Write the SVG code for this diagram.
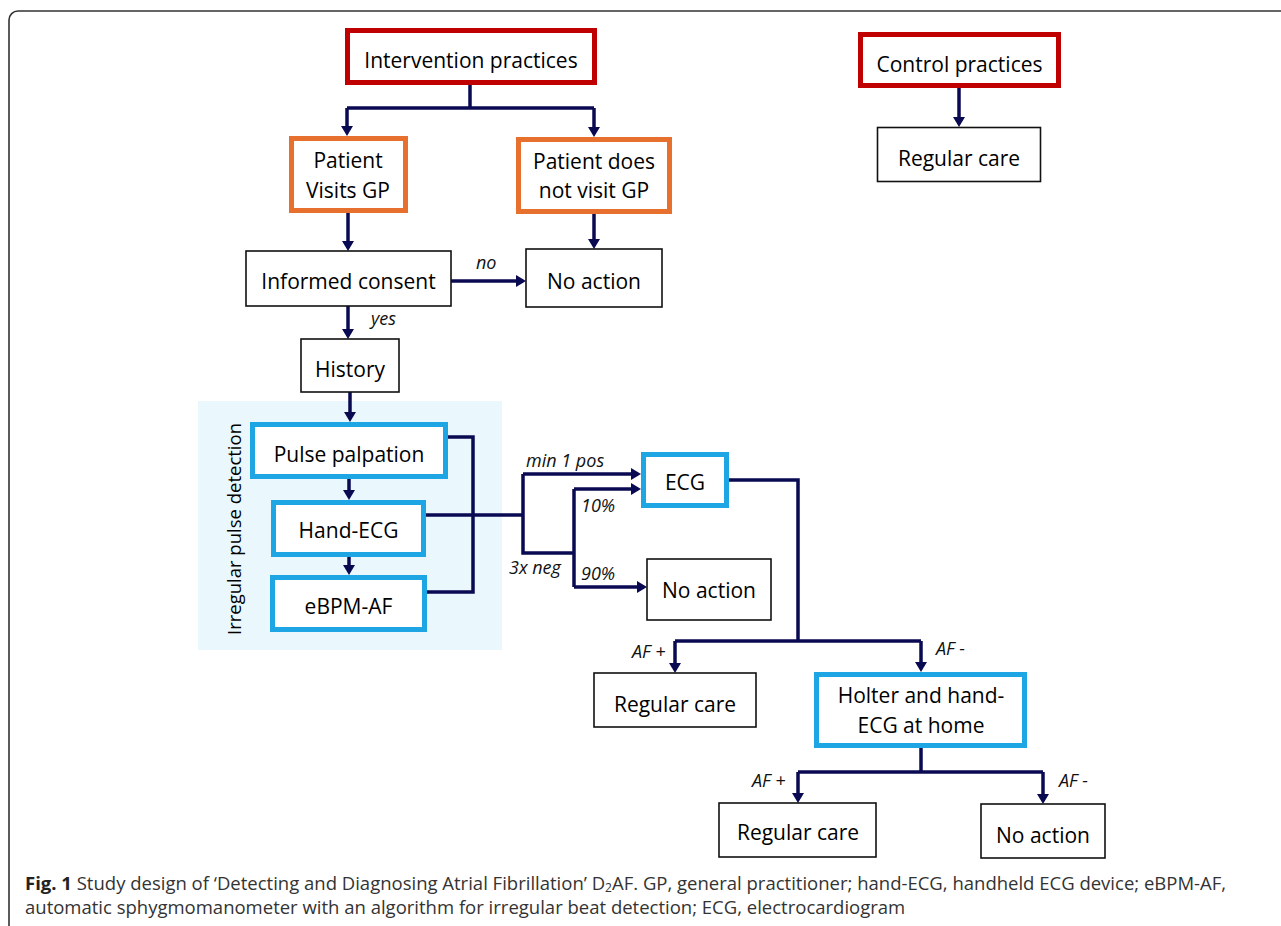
<svg xmlns="http://www.w3.org/2000/svg" width="1281" height="926" viewBox="0 0 1281 926">
<defs>
<marker id="ah" viewBox="0 0 10 12" refX="7" refY="6" markerWidth="10" markerHeight="12" markerUnits="userSpaceOnUse" orient="auto">
<path d="M0,0 L10,6 L0,12 z" fill="#0a0a52"/>
</marker>
<style>
.t{font-family:"Open Sans","Noto Sans",sans-serif;font-size:21px;fill:#000;text-anchor:middle}
.lab{font-family:"Open Sans","Noto Sans",sans-serif;font-size:18px;font-style:italic;fill:#111}
.red{fill:#fff;stroke:#c00000;stroke-width:5}
.org{fill:#fff;stroke:#e8702f;stroke-width:5}
.blu{fill:#fff;stroke:#1ea5e3;stroke-width:5}
.blk{fill:#fff;stroke:#111;stroke-width:1.6}
.c{fill:none;stroke:#0a0a52;stroke-width:3.5}
.a{fill:none;stroke:#0a0a52;stroke-width:3.5;marker-end:url(#ah)}
.cap{font-family:"Open Sans","Noto Sans",sans-serif;font-size:18.5px;fill:#333}
</style>
</defs>
<rect width="1281" height="926" fill="#fff"/>
<path d="M9,926 V20 A9,9 0 0 1 18,11 H1281" fill="none" stroke="#333" stroke-width="1.6"/>
<rect x="198" y="401" width="304" height="249" fill="#eaf8fd"/>
<text class="t" style="font-size:18.5px" transform="translate(241,529) rotate(-90)">Irregular pulse detection</text>

<g id="connectors">
<path class="c" d="M470,85 V108"/>
<path class="c" d="M347,108 H594"/>
<path class="a" d="M347,108 V133"/>
<path class="a" d="M594,108 V134"/>
<path class="a" d="M959,88 V124"/>
<path class="a" d="M348,213 V248"/>
<path class="a" d="M594,214 V246"/>
<path class="a" d="M451,281 H523"/>
<path class="a" d="M348,306 V336"/>
<path class="a" d="M350,392 V419"/>
<path class="a" d="M349,479 V497"/>
<path class="a" d="M349,557 V572"/>
<path class="c" d="M448,437 H473 V592 H427"/>
<path class="c" d="M426,515 H523"/>
<path class="c" d="M523,474 V553 H574"/>
<path class="a" d="M523,474 H638"/>
<path class="c" d="M574,489 V587"/>
<path class="a" d="M574,489 H638"/>
<path class="a" d="M574,587 H644"/>
<path class="c" d="M729,480 H798 V641"/>
<path class="c" d="M675,641 H921"/>
<path class="a" d="M675,641 V670"/>
<path class="a" d="M921,641 V669"/>
<path class="c" d="M921,748 V772"/>
<path class="c" d="M798,772 H1043"/>
<path class="a" d="M798,772 V800"/>
<path class="a" d="M1043,772 V801"/>
<text class="lab" x="476" y="269">no</text>
<text class="lab" x="371" y="325">yes</text>
<text class="lab" x="526" y="467">min 1 pos</text>
<text class="lab" x="581" y="512">10%</text>
<text class="lab" x="509" y="574">3x neg</text>
<text class="lab" x="581" y="580">90%</text>
<text class="lab" x="632" y="658">AF +</text>
<text class="lab" x="936" y="655">AF -</text>
<text class="lab" x="752" y="787">AF +</text>
<text class="lab" x="1059" y="787">AF -</text>
</g>

<g id="intervention"><rect class="red" x="347.5" y="30.5" width="247" height="52"/><text class="t" x="471" y="68">Intervention practices</text></g>
<g id="control"><rect class="red" x="860.5" y="34.5" width="198" height="51"/><text class="t" x="959.5" y="72">Control practices</text></g>
<g id="regular-care-control"><rect class="blk" x="877.5" y="127.5" width="163" height="54"/><text class="t" x="959" y="166">Regular care</text></g>
<g id="visits"><rect class="org" x="291.5" y="138.5" width="114" height="72"/><text class="t" x="348" y="168">Patient</text><text class="t" x="348" y="198">Visits GP</text></g>
<g id="not-visit"><rect class="org" x="518.5" y="139.5" width="151" height="72"/><text class="t" x="594" y="169">Patient does</text><text class="t" x="594" y="198">not visit GP</text></g>
<g id="consent"><rect class="blk" x="246" y="251" width="205" height="55"/><text class="t" x="348.5" y="289">Informed consent</text></g>
<g id="no-action-1"><rect class="blk" x="526" y="249" width="136" height="58"/><text class="t" x="594" y="289">No action</text></g>
<g id="history"><rect class="blk" x="301" y="339" width="98" height="53"/><text class="t" x="350" y="377">History</text></g>
<g id="pulse"><rect class="blu" x="252.5" y="424.5" width="193" height="52"/><text class="t" x="349" y="462">Pulse palpation</text></g>
<g id="hand-ecg"><rect class="blu" x="273.5" y="502.5" width="150" height="52"/><text class="t" x="348.5" y="538">Hand-ECG</text></g>
<g id="ebpm"><rect class="blu" x="272.5" y="577.5" width="152" height="52"/><text class="t" x="348.5" y="614">eBPM-AF</text></g>
<g id="ecg"><rect class="blu" x="643.5" y="454.5" width="83" height="51"/><text class="t" x="685" y="490">ECG</text></g>
<g id="no-action-2"><rect class="blk" x="647" y="559" width="124" height="61"/><text class="t" x="709" y="598">No action</text></g>
<g id="regular-care-2"><rect class="blk" x="594" y="673" width="162" height="54"/><text class="t" x="675" y="712">Regular care</text></g>
<g id="holter"><rect class="blu" x="816.5" y="674.5" width="208" height="71"/><text class="t" x="921" y="703">Holter and hand-</text><text class="t" x="921" y="733">ECG at home</text></g>
<g id="regular-care-3"><rect class="blk" x="719" y="803" width="157" height="54"/><text class="t" x="798" y="840">Regular care</text></g>
<g id="no-action-3"><rect class="blk" x="981" y="804" width="124" height="54"/><text class="t" x="1043" y="843">No action</text></g>

<text class="cap" x="25" y="890"><tspan font-weight="bold" fill="#222">Fig. 1</tspan> Study design of ‘Detecting and Diagnosing Atrial Fibrillation’ D<tspan font-size="12" dy="2">2</tspan><tspan dy="-2">AF. GP, general practitioner; hand-ECG, handheld ECG device; eBPM-AF,</tspan></text>
<text class="cap" x="25" y="914">automatic sphygmomanometer with an algorithm for irregular beat detection; ECG, electrocardiogram</text>
</svg>
